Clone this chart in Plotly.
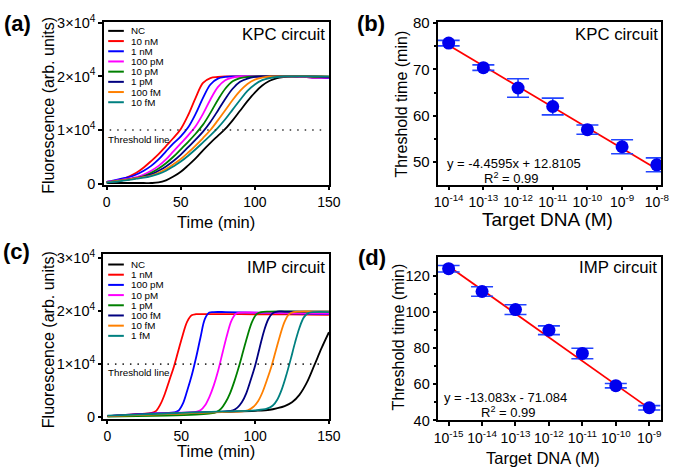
import math
import plotly.graph_objects as go

W, H = 685, 475
FONT = "Liberation Sans, Arial, sans-serif"


def px(x):
    return x / W


def py(y):
    return 1 - y / H


# ---------------- data ----------------
UNIT = 1e4
THRESHOLD = 1e4

# Panel (a) KPC circuit kinetics (fluorescence in units of 1e4)
kpc_labels = ["NC", "10 nM", "1 nM", "100 pM", "10 pM", "1 pM", "100 fM", "10 fM"]
time_a = list(range(0, 151, 5))
kpc_nc = [0.01, 0.01, 0.01, 0.01, 0.01, 0.01, 0.01, 0.02, 0.06, 0.13, 0.22, 0.34, 0.47, 0.62, 0.76, 0.89,
          1.02, 1.18, 1.36, 1.54, 1.70, 1.83, 1.92, 1.97, 1.99, 2.00, 2.00, 2.00, 2.00, 2.00, 1.99]
kpc_10nM = [0.03, 0.05, 0.08, 0.13, 0.20, 0.30, 0.42, 0.55, 0.70, 0.85, 1.02, 1.28, 1.60, 1.88, 1.97, 1.99,
            2.00, 2.00, 2.00, 2.00, 2.00, 2.00, 2.00, 2.00, 2.00, 2.00, 1.99, 1.99, 1.98, 1.98, 1.97]
kpc_1nM = [0.03, 0.06, 0.09, 0.12, 0.17, 0.24, 0.33, 0.45, 0.60, 0.75, 0.88, 1.05, 1.30, 1.60, 1.85, 1.96,
           1.99, 2.00, 2.00, 2.00, 2.00, 2.00, 2.00, 2.00, 2.00, 2.00, 1.99, 1.99, 1.98, 1.98, 1.97]
kpc_100pM = [0.03, 0.05, 0.07, 0.09, 0.12, 0.17, 0.24, 0.33, 0.45, 0.60, 0.75, 0.90, 1.07, 1.30, 1.57, 1.80,
             1.93, 1.98, 2.00, 2.00, 2.00, 2.00, 2.00, 2.00, 2.00, 2.00, 1.99, 1.99, 1.98, 1.98, 1.98]
kpc_10pM = [0.02, 0.04, 0.06, 0.08, 0.10, 0.14, 0.20, 0.28, 0.38, 0.50, 0.64, 0.78, 0.93, 1.10, 1.32, 1.56,
            1.77, 1.91, 1.97, 1.99, 2.00, 2.00, 2.00, 2.00, 2.00, 2.00, 2.00, 2.00, 1.99, 1.99, 1.99]
kpc_1pM = [0.02, 0.04, 0.06, 0.08, 0.10, 0.13, 0.17, 0.24, 0.32, 0.42, 0.54, 0.68, 0.82, 0.97, 1.15, 1.36,
           1.58, 1.77, 1.90, 1.96, 1.99, 2.00, 2.00, 2.00, 2.00, 2.00, 2.00, 2.00, 2.00, 1.99, 1.99]
kpc_100fM = [0.02, 0.04, 0.06, 0.08, 0.10, 0.12, 0.15, 0.20, 0.27, 0.36, 0.46, 0.58, 0.71, 0.85, 1.00, 1.18,
             1.37, 1.56, 1.73, 1.86, 1.94, 1.98, 2.00, 2.00, 2.00, 2.00, 2.00, 2.00, 2.00, 2.00, 2.00]
kpc_10fM = [0.02, 0.03, 0.05, 0.07, 0.09, 0.11, 0.14, 0.18, 0.24, 0.32, 0.41, 0.52, 0.64, 0.77, 0.90, 1.04,
            1.20, 1.38, 1.56, 1.73, 1.85, 1.93, 1.97, 1.99, 2.00, 2.00, 2.00, 2.00, 2.00, 2.00, 2.00]
kpc_curves = [kpc_nc, kpc_10nM, kpc_1nM, kpc_100pM, kpc_10pM, kpc_1pM, kpc_100fM, kpc_10fM]

# Panel (c) IMP circuit kinetics (fluorescence in units of 1e4), each curve with its own time points
imp_labels = ["NC", "1 nM", "100 pM", "10 pM", "1 pM", "100 fM", "10 fM", "1 fM"]
imp_nc_t = [0, 20, 40, 60, 80, 100, 110, 115, 120, 125, 130, 135, 140, 145, 150]
imp_nc = [0.02, 0.04, 0.06, 0.08, 0.10, 0.12, 0.14, 0.17, 0.21, 0.28, 0.42, 0.65, 0.97, 1.30, 1.60]
imp_1nM_t = [0, 10, 20, 30, 33, 36, 39, 42, 45, 48, 51, 54, 57, 60, 70, 90, 120, 150]
imp_1nM = [0.02, 0.04, 0.06, 0.08, 0.12, 0.25, 0.45, 0.70, 0.95, 1.25, 1.55, 1.80, 1.92, 1.94, 1.94, 1.94,
           1.935, 1.93]
imp_100pM_t = [0, 15, 30, 45, 48, 51, 54, 57, 60, 63, 66, 69, 72, 80, 100, 130, 150]
imp_100pM = [0.02, 0.05, 0.07, 0.09, 0.12, 0.25, 0.50, 0.78, 1.12, 1.50, 1.85, 1.97, 1.98, 1.98, 1.97, 1.95,
             1.94]
imp_10pM_t = [0, 20, 40, 60, 63, 66, 69, 72, 75, 78, 81, 84, 87, 90, 100, 120, 150]
imp_10pM = [0.02, 0.05, 0.08, 0.10, 0.13, 0.22, 0.38, 0.60, 0.88, 1.22, 1.55, 1.82, 1.95, 1.97, 1.97, 1.96,
            1.95]
imp_1pM_t = [0, 20, 40, 60, 70, 74, 77, 80, 83, 86, 89, 92, 95, 98, 101, 104, 110, 130, 150]
imp_1pM = [0.01, 0.02, 0.03, 0.05, 0.07, 0.10, 0.16, 0.28, 0.45, 0.68, 0.95, 1.25, 1.55, 1.80, 1.94, 1.98,
           1.99, 1.99, 1.99]
imp_100fM_t = [0, 20, 40, 60, 80, 85, 88, 91, 94, 97, 100, 103, 106, 109, 112, 115, 120, 135, 150]
imp_100fM = [0.02, 0.05, 0.07, 0.09, 0.11, 0.13, 0.18, 0.28, 0.45, 0.70, 0.97, 1.30, 1.62, 1.85, 1.96, 1.99,
             1.99, 1.99, 1.99]
imp_10fM_t = [0, 20, 40, 60, 80, 95, 99, 102, 105, 108, 111, 114, 117, 120, 123, 126, 130, 140, 150]
imp_10fM = [0.02, 0.04, 0.06, 0.08, 0.10, 0.13, 0.20, 0.30, 0.47, 0.70, 0.95, 1.25, 1.55, 1.80, 1.94, 1.98,
            1.99, 1.99, 1.99]
imp_1fM_t = [0, 20, 40, 60, 80, 100, 108, 112, 115, 118, 121, 124, 127, 130, 133, 136, 140, 150]
imp_1fM = [0.03, 0.05, 0.07, 0.09, 0.11, 0.13, 0.16, 0.22, 0.33, 0.52, 0.78, 1.08, 1.40, 1.68, 1.88, 1.96,
           1.98, 1.98]
imp_times = [imp_nc_t, imp_1nM_t, imp_100pM_t, imp_10pM_t, imp_1pM_t, imp_100fM_t, imp_10fM_t, imp_1fM_t]
imp_curves = [imp_nc, imp_1nM, imp_100pM, imp_10pM, imp_1pM, imp_100fM, imp_10fM, imp_1fM]

curve_colors = ["#000000", "#ff0000", "#0000ff", "#ff00ff", "#008000", "#000080", "#ff8000", "#008080"]

# Panel (b) KPC threshold times
kpc_conc = [1e-14, 1e-13, 1e-12, 1e-11, 1e-10, 1e-9, 1e-8]
kpc_tt = [75.7, 70.4, 66.0, 62.0, 57.0, 53.3, 49.4]
kpc_err = [0.6, 0.6, 2.0, 1.8, 1.0, 1.5, 1.5]
kpc_slope, kpc_intercept = -4.4595, 12.8105
kpc_ticks = [-14, -13, -12, -11, -10, -9, -8]

# Panel (d) IMP threshold times
imp_conc = [1e-15, 1e-14, 1e-13, 1e-12, 1e-11, 1e-10, 1e-9]
imp_tt = [123.8, 111.2, 101.2, 89.8, 77.0, 59.2, 47.0]
imp_err = [1.8, 2.6, 2.7, 2.4, 2.9, 1.2, 1.2]
imp_slope, imp_intercept = -13.083, -71.084
imp_ticks = [-15, -14, -13, -12, -11, -10, -9]

fig = go.Figure()

# ---------------- traces ----------------
for ys, col in zip(kpc_curves, curve_colors):
    fig.add_trace(go.Scatter(x=time_a, y=[v * UNIT for v in ys], mode="lines",
                             line=dict(color=col, width=1.8, shape="spline"),
                             xaxis="x", yaxis="y", showlegend=False, hoverinfo="skip"))
fig.add_trace(go.Scatter(x=[2, 145], y=[THRESHOLD, THRESHOLD], mode="lines",
                         line=dict(color="#333333", width=1.6, dash="1.5px,6px"),
                         xaxis="x", yaxis="y", showlegend=False))

for ts, ys, col in zip(imp_times, imp_curves, curve_colors):
    fig.add_trace(go.Scatter(x=ts, y=[v * UNIT for v in ys], mode="lines",
                             line=dict(color=col, width=1.8, shape="spline"),
                             xaxis="x3", yaxis="y3", showlegend=False, hoverinfo="skip"))
fig.add_trace(go.Scatter(x=[0, 147], y=[THRESHOLD, THRESHOLD], mode="lines",
                         line=dict(color="#333333", width=1.6, dash="1.5px,6px"),
                         xaxis="x3", yaxis="y3", showlegend=False))

# fit lines
for conc, slope, icpt, xa, ya in [(kpc_conc, kpc_slope, kpc_intercept, "x2", "y2"),
                                  (imp_conc, imp_slope, imp_intercept, "x4", "y4")]:
    ends = [conc[0], conc[-1]]
    fit_y = [slope * math.log10(c) + icpt for c in ends]
    fig.add_trace(go.Scatter(x=ends, y=fit_y, mode="lines", line=dict(color="#ff0000", width=1.8),
                             xaxis=xa, yaxis=ya, showlegend=False))

for conc, tt, err, xa, ya in [(kpc_conc, kpc_tt, kpc_err, "x2", "y2"),
                              (imp_conc, imp_tt, imp_err, "x4", "y4")]:
    fig.add_trace(go.Scatter(x=conc, y=tt, mode="markers",
                             marker=dict(color="#0000ee", size=13),
                             error_y=dict(type="data", array=err, color="#2244ff", thickness=1.6, width=11),
                             xaxis=xa, yaxis=ya, showlegend=False))

# ---------------- axes ----------------
def axis(domain, rng, fs=14, **kw):
    d = dict(domain=domain, range=rng, showline=True, linecolor="black", linewidth=1.6, mirror=True,
             ticks="outside", ticklen=3.5, tickwidth=1.6, tickcolor="black", showgrid=False, zeroline=False,
             tickfont=dict(family=FONT, size=fs, color="black"))
    d.update(kw)
    return d


yt_vals = [0, 1e4, 2e4, 3e4]
yt_text = ["0", "1×10<sup>4</sup>", "2×10<sup>4</sup>", "3×10<sup>4</sup>"]
xt_vals = [0, 50, 100, 150]

fig.update_layout(
    xaxis=axis([px(102), px(333)], [-2.1, 150.2], fs=14, anchor="y", tickvals=xt_vals),
    yaxis=axis([py(182.7), py(13.3)], [-300, 30200], fs=14.5, anchor="x", tickvals=yt_vals, ticktext=yt_text),
    xaxis2=axis([px(444.3), px(673)], [-14.31, -7.87], fs=14, anchor="y2", type="log",
                tickvals=[10 ** k for k in kpc_ticks],
                ticktext=["10<sup>%d</sup>" % k for k in kpc_ticks]),
    yaxis2=axis([py(182.7), py(13.3)], [45, 80.3], fs=15, anchor="x2", tickvals=[50, 60, 70, 80],
                minor=dict(tickvals=[55, 65, 75], ticklen=2.5, tickcolor="black", ticks="outside")),
    xaxis3=axis([px(101.7), px(333)], [-2.8, 150.2], fs=14, anchor="y3", tickvals=xt_vals),
    yaxis3=axis([py(425), py(254.3)], [-300, 30700], fs=14.5, anchor="x3", tickvals=yt_vals, ticktext=yt_text),
    xaxis4=axis([px(444.3), px(673)], [-15.32, -8.64], fs=14, anchor="y4", type="log",
                tickvals=[10 ** k for k in imp_ticks],
                ticktext=["10<sup>%d</sup>" % k for k in imp_ticks]),
    yaxis4=axis([py(426.7), py(257.7)], [40, 130], fs=14.5, anchor="x4", tickvals=[40, 60, 80, 100, 120],
                minor=dict(tickvals=[50, 70, 90, 110], ticklen=2.5, tickcolor="black", ticks="outside")),
)

# ---------------- legends, labels ----------------
shapes = []
annotations = []


def text(x, y, s, size, xanchor="center", yanchor="middle", bold=False, angle=0):
    if bold:
        s = "<b>%s</b>" % s
    annotations.append(dict(x=px(x), y=py(y), xref="paper", yref="paper", text=s, showarrow=False,
                            xanchor=xanchor, yanchor=yanchor, textangle=angle, borderpad=0,
                            font=dict(family=FONT, size=size, color="black")))


for labels, y0 in [(kpc_labels, 22.7), (imp_labels, 265.0)]:
    for i, (lab, col) in enumerate(zip(labels, curve_colors)):
        yy = y0 + i * 10.57
        shapes.append(dict(type="line", xref="paper", yref="paper", x0=px(106.7), x1=px(122.7),
                           y0=py(yy), y1=py(yy), line=dict(color=col, width=2)))
        text(129.5, yy, lab, 9.8, xanchor="left")

text(105.3, 135.0, "Threshold line", 9.8, xanchor="left")
text(105.3, 376.7, "Threshold line", 9.8, xanchor="left")

text(330, 26.7, "KPC circuit", 16.8, xanchor="right")
text(671, 26.7, "KPC circuit", 16.8, xanchor="right")
text(330, 268.3, "IMP circuit", 16.8, xanchor="right")
text(670, 268.3, "IMP circuit", 16.8, xanchor="right")

text(14, 15.5, "(a)", 22, bold=True)
text(376, 15.5, "(b)", 22, bold=True)
text(13, 251.7, "(c)", 22, bold=True)
text(377, 257.5, "(d)", 22, bold=True)

text(45.5, 100, "Fluorescence (arb. units)", 16, angle=-90)
text(45.5, 343, "Fluorescence (arb. units)", 16, angle=-90)
text(217, 220.5, "Time (min)", 16.5)
text(217, 458.5, "Time (min)", 16.5)
text(407.5, 98, "Threshold time (min)", 16, angle=-90)
text(404, 340, "Threshold time (min)", 16, angle=-90)
text(556.7, 218.3, "Target DNA (M)", 19)
text(552.3, 465.5, "Target DNA (M)", 16.5)

text(521.7, 160.5, "y = -4.4595x + 12.8105", 13)
text(519.5, 175.5, "R<sup>2</sup> = 0.99", 13)
text(513.3, 402.8, "y = -13.083x - 71.084", 13)
text(516.7, 418, "R<sup>2</sup> = 0.99", 13)

fig.update_layout(width=W, height=H, margin=dict(l=0, r=0, t=0, b=0), paper_bgcolor="white",
                  plot_bgcolor="white", shapes=shapes, annotations=annotations, showlegend=False)

fig.write_html("out.html", config={"displayModeBar": False},
               post_script="document.body.style.margin='0';document.body.style.overflow='hidden';")
